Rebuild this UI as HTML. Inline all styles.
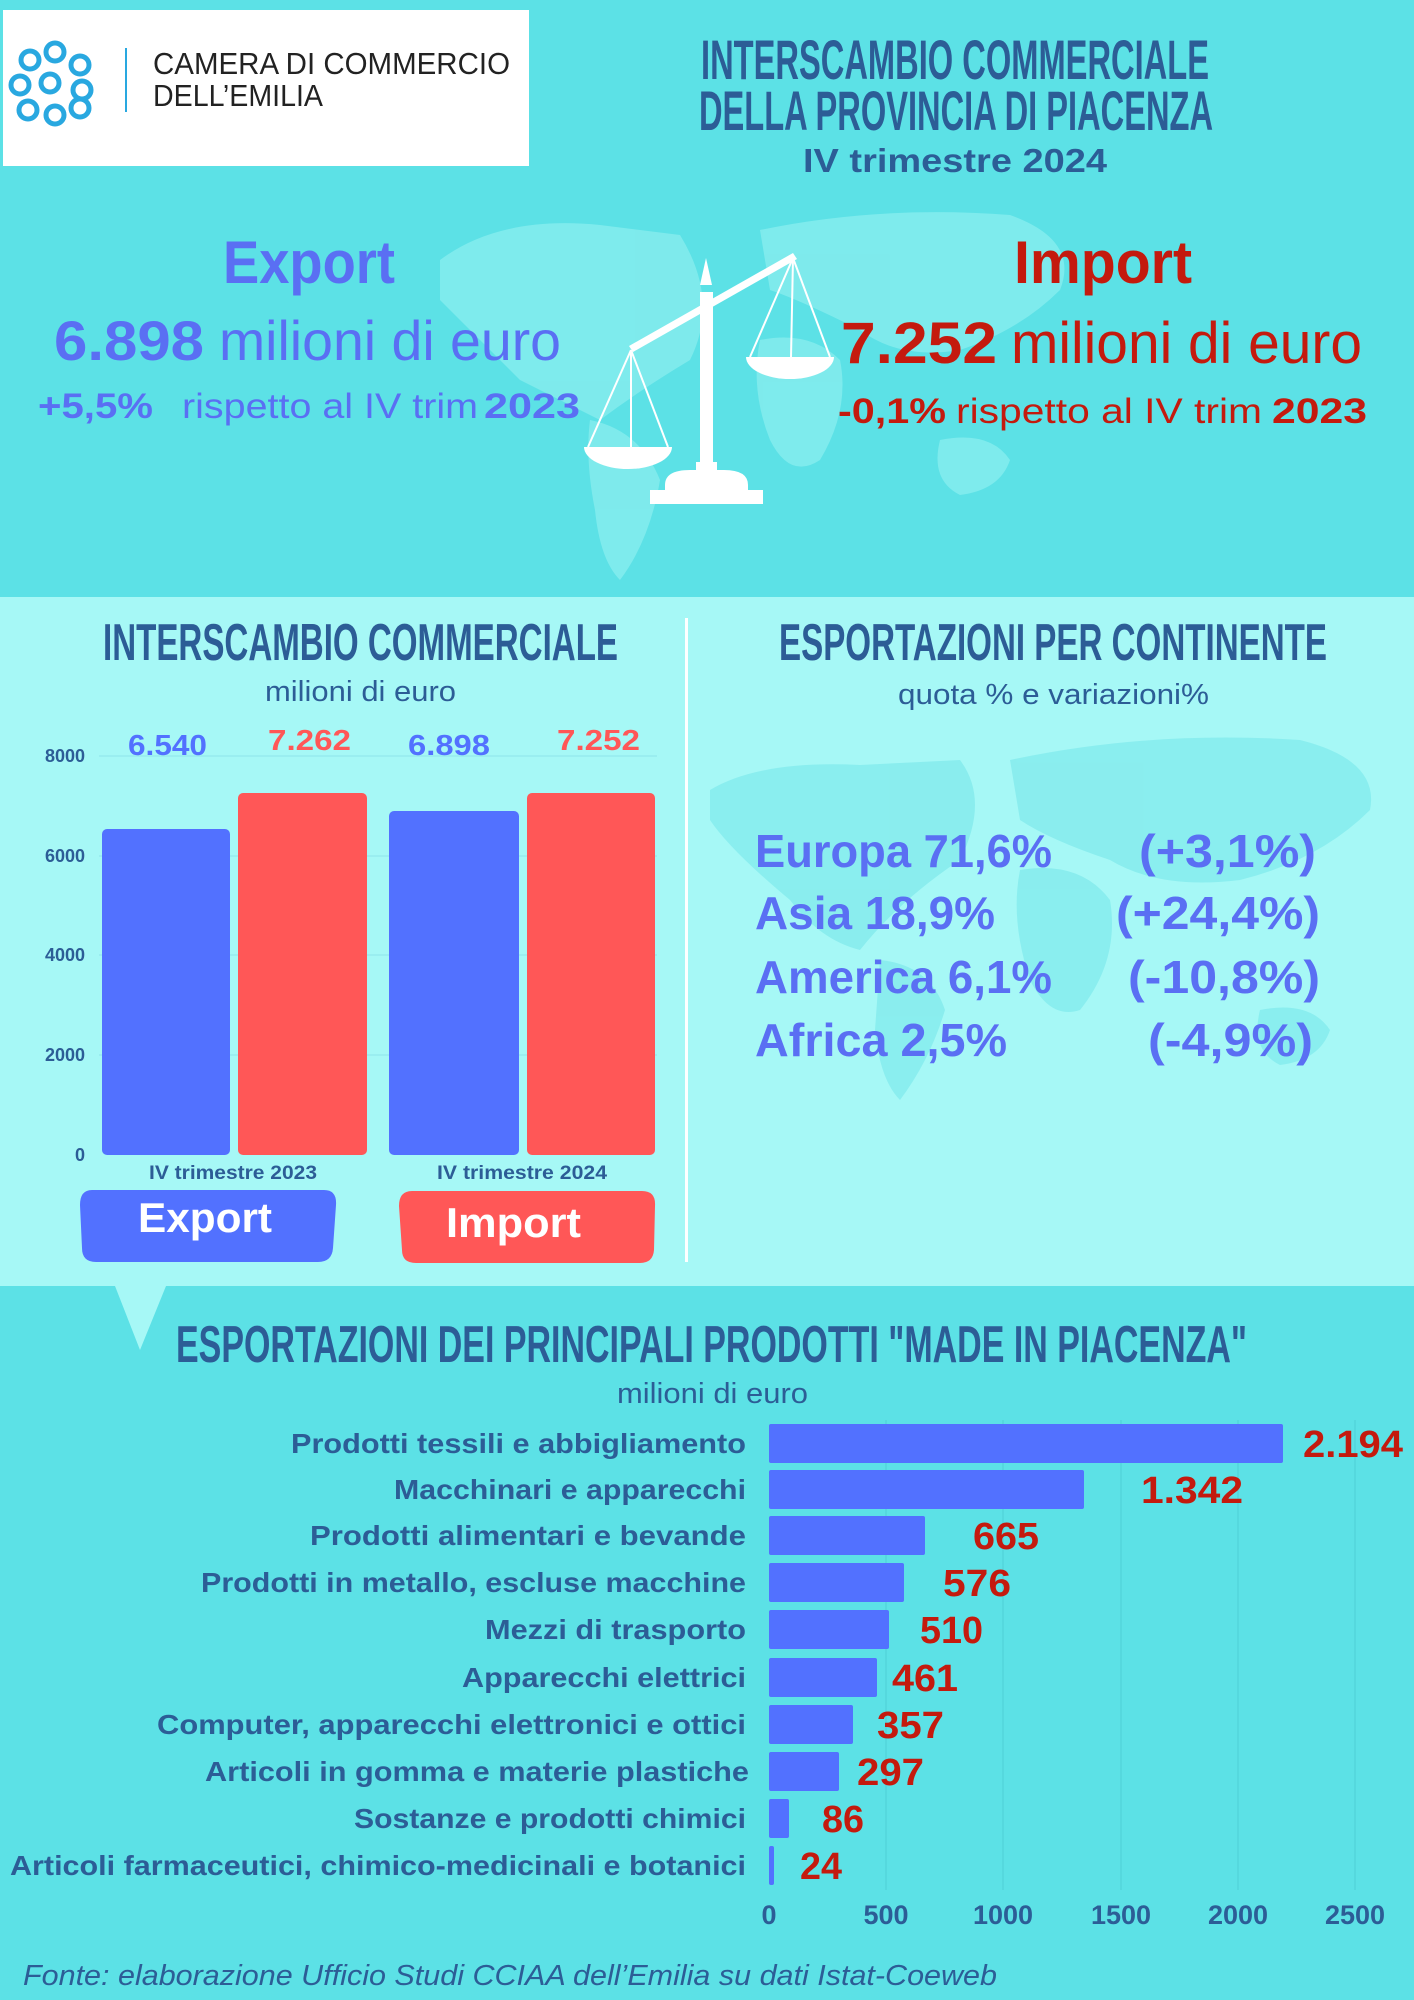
<!DOCTYPE html>
<html><head><meta charset="utf-8"><style>
html,body{margin:0;padding:0;background:#5ce1e6;}
svg{display:block}
</style></head><body>
<svg width="1414" height="2000" viewBox="0 0 1414 2000" xmlns="http://www.w3.org/2000/svg" font-family="'Liberation Sans Narrow','Liberation Sans',sans-serif">
<rect x="0" y="0" width="1414" height="2000" fill="#5ce1e6"/>
<!-- top map blobs -->
<g fill="#95f1f1" opacity="0.6">
<path d="M440 260 Q500 215 600 225 L680 235 Q720 300 690 360 Q640 390 600 420 Q560 400 520 380 Q470 330 440 300Z"/>
<path d="M590 420 Q640 430 660 480 Q650 540 620 580 Q600 560 595 510 Q585 460 590 420Z"/>
<path d="M760 230 Q880 205 1010 215 Q1080 240 1060 290 Q1020 330 960 350 Q900 360 860 330 Q800 300 770 290Z"/>
<path d="M760 340 Q810 330 840 360 Q850 410 820 460 Q790 480 770 440 Q750 390 760 340Z"/>
<path d="M940 440 Q990 430 1010 460 Q1000 490 960 495 Q930 480 940 440Z"/>
</g>
<!-- logo box -->
<rect x="3" y="10" width="526" height="156" fill="#ffffff"/>
<g fill="none" stroke="#29a8e0" stroke-width="5">
<circle cx="30" cy="60" r="9"/><circle cx="55" cy="52" r="9"/><circle cx="80" cy="65" r="9"/>
<circle cx="20" cy="85" r="9"/><circle cx="50" cy="83" r="9"/><circle cx="82" cy="90" r="9"/>
<circle cx="28" cy="110" r="9"/><circle cx="55" cy="115" r="9"/><circle cx="80" cy="108" r="9"/>
</g>
<rect x="125" y="48" width="2" height="64" fill="#29a8e0"/>
<text x="153" y="74" font-size="31" fill="#222" textLength="357" lengthAdjust="spacingAndGlyphs">CAMERA DI COMMERCIO</text>
<text x="153" y="106" font-size="31" fill="#222" textLength="170" lengthAdjust="spacingAndGlyphs">DELL’EMILIA</text>
<!-- titles -->
<g fill="#2c5d96" font-weight="bold">
<text x="701" y="79" font-size="56" textLength="508" lengthAdjust="spacingAndGlyphs">INTERSCAMBIO COMMERCIALE</text>
<text x="699" y="130" font-size="56" textLength="514" lengthAdjust="spacingAndGlyphs">DELLA PROVINCIA DI PIACENZA</text>
<text x="803" y="172" font-size="33" textLength="304" lengthAdjust="spacingAndGlyphs">IV trimestre 2024</text>
</g>
<!-- export/import -->
<g fill="#5a6ff3">
<text x="223" y="283" font-size="60" font-weight="bold" textLength="172" lengthAdjust="spacingAndGlyphs">Export</text>
<text x="54" y="360" font-size="56" font-weight="bold" textLength="150" lengthAdjust="spacingAndGlyphs">6.898</text>
<text x="219" y="360" font-size="56" textLength="342" lengthAdjust="spacingAndGlyphs">milioni di euro</text>
<text x="38" y="418" font-size="35" font-weight="bold" textLength="115" lengthAdjust="spacingAndGlyphs">+5,5%</text>
<text x="182" y="418" font-size="35" textLength="296" lengthAdjust="spacingAndGlyphs">rispetto al IV trim</text>
<text x="484" y="418" font-size="35" font-weight="bold" textLength="96" lengthAdjust="spacingAndGlyphs">2023</text>
</g>
<g fill="#c41a0e">
<text x="1014" y="283" font-size="60" font-weight="bold" textLength="178" lengthAdjust="spacingAndGlyphs">Import</text>
<text x="841" y="363" font-size="58" font-weight="bold" textLength="156" lengthAdjust="spacingAndGlyphs">7.252</text>
<text x="1011" y="363" font-size="58" textLength="351" lengthAdjust="spacingAndGlyphs">milioni di euro</text>
<text x="838" y="423" font-size="35" font-weight="bold" textLength="108" lengthAdjust="spacingAndGlyphs">-0,1%</text>
<text x="956" y="423" font-size="35" textLength="306" lengthAdjust="spacingAndGlyphs">rispetto al IV trim</text>
<text x="1272" y="423" font-size="35" font-weight="bold" textLength="95" lengthAdjust="spacingAndGlyphs">2023</text>
</g>
<!-- scales -->
<g fill="#ffffff" stroke="none">
<polygon points="706,258 712,285 700,285"/>
<rect x="700" y="292" width="13" height="185"/>
<rect x="696" y="462" width="21" height="16"/>
<path d="M665 502 L665 485 Q665 470 690 470 L724 470 Q748 470 748 485 L748 502Z"/>
<rect x="650" y="490" width="113" height="14"/>
<polygon points="629,346 793,253 797,259 633,352"/>
<path d="M584 447 L672 447 A44 22 0 0 1 584 447Z"/>
<path d="M746 357 L834 357 A44 22 0 0 1 746 357Z"/>
</g>
<g stroke="#ffffff" stroke-width="2">
<line x1="631" y1="350" x2="588" y2="447"/><line x1="631" y1="350" x2="668" y2="447"/><line x1="631" y1="350" x2="631" y2="447"/>
<line x1="793" y1="258" x2="750" y2="357"/><line x1="793" y1="258" x2="830" y2="357"/><line x1="793" y1="258" x2="791" y2="357"/>
</g>
<!-- middle section -->
<rect x="0" y="597" width="1414" height="689" fill="#a6f8f6"/>
<g fill="#7fe9ec" opacity="0.7">
<path d="M710 790 Q760 760 860 765 L960 760 Q990 800 960 860 Q900 900 860 950 Q820 940 790 900 Q730 850 710 820Z"/>
<path d="M880 960 Q930 965 945 1010 Q930 1060 900 1100 Q880 1080 875 1030Z"/>
<path d="M1010 760 Q1150 730 1300 740 Q1380 760 1370 810 Q1320 860 1240 880 Q1160 890 1110 860 Q1050 840 1020 820Z"/>
<path d="M1020 870 Q1080 860 1110 900 Q1120 960 1080 1010 Q1050 1020 1030 980 Q1010 920 1020 870Z"/>
<path d="M1260 1010 Q1310 1000 1330 1030 Q1320 1060 1280 1065 Q1250 1050 1260 1010Z"/>
</g>
<rect x="685" y="618" width="3" height="644" fill="#ffffff"/>
<polygon points="115,1286 166,1286 140,1350" fill="#a6f8f6"/>
<g fill="#2c5d96" font-weight="bold">
<text x="103" y="660" font-size="52" textLength="515" lengthAdjust="spacingAndGlyphs">INTERSCAMBIO COMMERCIALE</text>
<text x="779" y="660" font-size="52" textLength="548" lengthAdjust="spacingAndGlyphs">ESPORTAZIONI PER CONTINENTE</text>
</g>
<g fill="#2c5d96">
<text x="265" y="701" font-size="29" textLength="191" lengthAdjust="spacingAndGlyphs">milioni di euro</text>
<text x="898" y="704" font-size="29" textLength="311" lengthAdjust="spacingAndGlyphs">quota % e variazioni%</text>
</g>
<!-- bar chart -->
<g stroke="#8fe4ea" stroke-width="1">
<line x1="99" y1="756" x2="657" y2="756"/><line x1="99" y1="856" x2="657" y2="856"/>
<line x1="99" y1="955" x2="657" y2="955"/><line x1="99" y1="1055" x2="657" y2="1055"/>
</g>
<g fill="#2c5d96" font-weight="bold" font-size="18" text-anchor="end">
<text x="85" y="762">8000</text><text x="85" y="862">6000</text><text x="85" y="961">4000</text>
<text x="85" y="1061">2000</text><text x="85" y="1161">0</text>
</g>
<rect x="102" y="829" width="128" height="326" rx="5" fill="#5271ff"/>
<rect x="238" y="793" width="129" height="362" rx="5" fill="#ff5757"/>
<rect x="389" y="811" width="130" height="344" rx="5" fill="#5271ff"/>
<rect x="527" y="793" width="128" height="362" rx="5" fill="#ff5757"/>
<g font-weight="bold" font-size="29">
<text x="128" y="755" fill="#5271ff" textLength="79" lengthAdjust="spacingAndGlyphs">6.540</text>
<text x="268" y="750" fill="#ff5757" textLength="83" lengthAdjust="spacingAndGlyphs">7.262</text>
<text x="408" y="755" fill="#5271ff" textLength="82" lengthAdjust="spacingAndGlyphs">6.898</text>
<text x="557" y="750" fill="#ff5757" textLength="83" lengthAdjust="spacingAndGlyphs">7.252</text>
</g>
<g fill="#2c5d96" font-weight="bold" font-size="19">
<text x="149" y="1179" textLength="168" lengthAdjust="spacingAndGlyphs">IV trimestre 2023</text>
<text x="437" y="1179" textLength="170" lengthAdjust="spacingAndGlyphs">IV trimestre 2024</text>
</g>
<path d="M92 1190 L324 1190 Q337 1190 336 1205 L333 1248 Q332 1262 318 1262 L96 1262 Q82 1262 82 1248 L80 1205 Q80 1190 92 1190Z" fill="#5271ff"/>
<path d="M412 1191 L642 1191 Q656 1191 655 1206 L654 1250 Q653 1263 640 1263 L416 1263 Q402 1263 402 1250 L399 1206 Q399 1191 412 1191Z" fill="#ff5757"/>
<g fill="#ffffff" font-weight="bold" font-size="42">
<text x="138" y="1232" textLength="134" lengthAdjust="spacingAndGlyphs">Export</text>
<text x="446" y="1237" textLength="135" lengthAdjust="spacingAndGlyphs">Import</text>
</g>
<g fill="#5a6ff3" font-weight="bold" font-size="46">
<text x="755" y="867" textLength="297" lengthAdjust="spacingAndGlyphs">Europa 71,6%</text>
<text x="1139" y="867" textLength="177" lengthAdjust="spacingAndGlyphs">(+3,1%)</text>
<text x="755" y="929" textLength="240" lengthAdjust="spacingAndGlyphs">Asia 18,9%</text>
<text x="1116" y="929" textLength="204" lengthAdjust="spacingAndGlyphs">(+24,4%)</text>
<text x="755" y="993" textLength="297" lengthAdjust="spacingAndGlyphs">America 6,1%</text>
<text x="1128" y="993" textLength="192" lengthAdjust="spacingAndGlyphs">(-10,8%)</text>
<text x="755" y="1056" textLength="252" lengthAdjust="spacingAndGlyphs">Africa 2,5%</text>
<text x="1148" y="1056" textLength="165" lengthAdjust="spacingAndGlyphs">(-4,9%)</text>
</g>
<!-- bottom section -->
<text x="176" y="1362" font-size="52" font-weight="bold" fill="#2c5d96" textLength="1071" lengthAdjust="spacingAndGlyphs">ESPORTAZIONI DEI PRINCIPALI PRODOTTI "MADE IN PIACENZA"</text>
<text x="617" y="1403" font-size="29" fill="#2c5d96" textLength="191" lengthAdjust="spacingAndGlyphs">milioni di euro</text>
<g stroke="#4ecfd6" stroke-width="1">
<line x1="886" y1="1420" x2="886" y2="1890"/><line x1="1003" y1="1420" x2="1003" y2="1890"/>
<line x1="1121" y1="1420" x2="1121" y2="1890"/><line x1="1238" y1="1420" x2="1238" y2="1890"/>
<line x1="1355" y1="1420" x2="1355" y2="1890"/>
</g>
<g fill="#5271ff">
<rect x="769" y="1424" width="514" height="39" rx="2"/>
<rect x="769" y="1470" width="315" height="39" rx="2"/>
<rect x="769" y="1516" width="156" height="39" rx="2"/>
<rect x="769" y="1563" width="135" height="39" rx="2"/>
<rect x="769" y="1610" width="120" height="39" rx="2"/>
<rect x="769" y="1658" width="108" height="39" rx="2"/>
<rect x="769" y="1705" width="84" height="39" rx="2"/>
<rect x="769" y="1752" width="70" height="39" rx="2"/>
<rect x="769" y="1799" width="20" height="39" rx="2"/>
<rect x="769" y="1846" width="5" height="39" rx="2"/>
</g>
<g fill="#2c5d96" font-weight="bold" font-size="28">
<text x="291" y="1453" textLength="455" lengthAdjust="spacingAndGlyphs">Prodotti tessili e abbigliamento</text>
<text x="394" y="1499" textLength="352" lengthAdjust="spacingAndGlyphs">Macchinari e apparecchi</text>
<text x="310" y="1545" textLength="436" lengthAdjust="spacingAndGlyphs">Prodotti alimentari e bevande</text>
<text x="201" y="1592" textLength="545" lengthAdjust="spacingAndGlyphs">Prodotti in metallo, escluse macchine</text>
<text x="485" y="1639" textLength="261" lengthAdjust="spacingAndGlyphs">Mezzi di trasporto</text>
<text x="462" y="1687" textLength="284" lengthAdjust="spacingAndGlyphs">Apparecchi elettrici</text>
<text x="157" y="1734" textLength="589" lengthAdjust="spacingAndGlyphs">Computer, apparecchi elettronici e ottici</text>
<text x="205" y="1781" textLength="544" lengthAdjust="spacingAndGlyphs">Articoli in gomma e materie plastiche</text>
<text x="354" y="1828" textLength="392" lengthAdjust="spacingAndGlyphs">Sostanze e prodotti chimici</text>
<text x="10" y="1875" textLength="736" lengthAdjust="spacingAndGlyphs">Articoli farmaceutici, chimico-medicinali e botanici</text>
</g>
<g fill="#c41a0e" font-weight="bold" font-size="38">
<text x="1303" y="1457" textLength="100" lengthAdjust="spacingAndGlyphs">2.194</text>
<text x="1141" y="1503" textLength="102" lengthAdjust="spacingAndGlyphs">1.342</text>
<text x="973" y="1549" textLength="66" lengthAdjust="spacingAndGlyphs">665</text>
<text x="943" y="1596" textLength="68" lengthAdjust="spacingAndGlyphs">576</text>
<text x="920" y="1643" textLength="63" lengthAdjust="spacingAndGlyphs">510</text>
<text x="892" y="1691" textLength="66" lengthAdjust="spacingAndGlyphs">461</text>
<text x="877" y="1738" textLength="67" lengthAdjust="spacingAndGlyphs">357</text>
<text x="857" y="1785" textLength="67" lengthAdjust="spacingAndGlyphs">297</text>
<text x="822" y="1832" textLength="42" lengthAdjust="spacingAndGlyphs">86</text>
<text x="800" y="1879" textLength="42" lengthAdjust="spacingAndGlyphs">24</text>
</g>
<g fill="#2c5d96" font-weight="bold" font-size="27" text-anchor="middle">
<text x="769" y="1924">0</text><text x="886" y="1924">500</text><text x="1003" y="1924">1000</text>
<text x="1121" y="1924">1500</text><text x="1238" y="1924">2000</text><text x="1355" y="1924">2500</text>
</g>
<text x="23" y="1985" font-size="29" font-style="italic" fill="#2c5d96" textLength="974" lengthAdjust="spacingAndGlyphs">Fonte: elaborazione Ufficio Studi CCIAA dell’Emilia su dati Istat-Coeweb</text>
</svg>
</body></html>
